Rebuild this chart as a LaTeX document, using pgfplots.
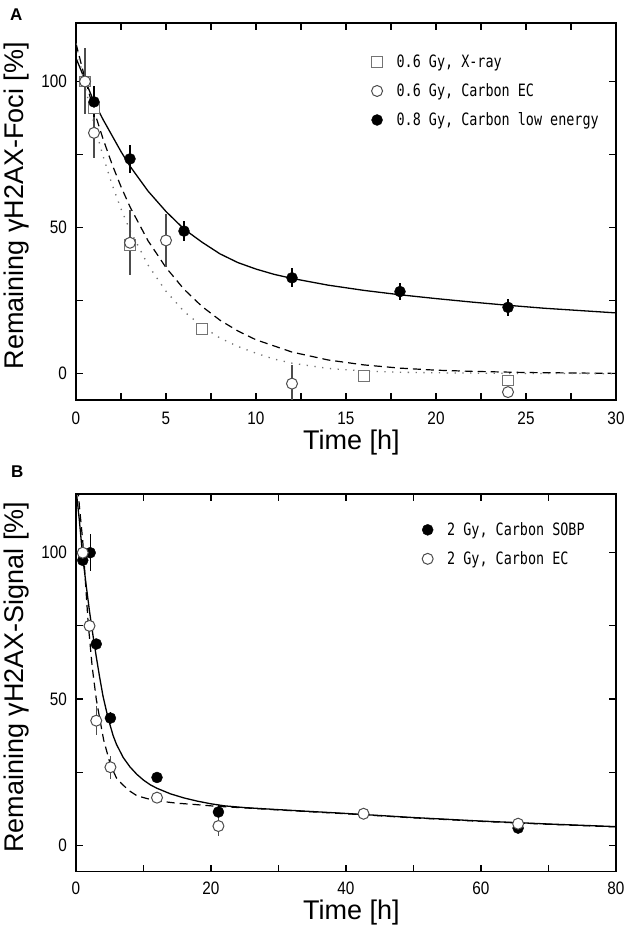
\documentclass[border=0pt]{standalone}
\usepackage{fontspec}
\setmainfont{Liberation Sans}
\newfontfamily\tickfont{Liberation Sans}[FakeStretch=0.85]
\newfontfamily\legfont{DejaVu Sans Mono}[FakeStretch=0.79]
\usepackage{pgfplots}
\pgfplotsset{compat=1.18}
\usepackage{pgfplotstable}

% ---------- Panel A data ----------
\pgfplotstableread{
t v e
0.5 100 0
1 91 0
3 44 0
7 15.2 0
16 -0.8 0
24 -2.3 0
}\Asq
\pgfplotstableread{
t v e
0.5 100 11.3
1 82.4 8.5
3 44.8 11.2
5 45.6 9.2
12 -3.4 6.3
24 -6.3 0
}\Aopen
\pgfplotstableread{
t v e
1 93 5.3
3 73.5 4.7
6 48.8 3.5
12 32.8 3.2
18 28.1 2.8
24 22.7 2.8
}\Afill

% ---------- Panel B data ----------
\pgfplotstableread{
t v e
1 97.4 0
2.1 100 6.3
3 68.8 0
5.1 43.5 2
12 23.2 0
21.1 11.4 2.5
65.5 5.9 0
}\Bfill
\pgfplotstableread{
t v e
1 100 0
2 75 0
3 42.6 5
5.1 26.7 4
12 16.3 0
21.1 6.6 3.5
42.6 10.8 0
65.5 7.4 0
}\Bopen

\definecolor{sqgray}{gray}{0.45}
\definecolor{opgray}{gray}{0.30}

\pgfplotsset{
  panel/.style={
    scale only axis, width=540pt,
    ymin=-9, ymax=120,
    ytick={0,50,100}, minor ytick={25,75},
    tick align=inside,
    major tick length=7pt, minor tick length=7pt,
    every tick/.style={black, line width=1.2pt},
    axis line style={line width=1.5pt},
    /pgf/number format/assume math mode=true,
    ticklabel style={font=\tickfont\fontsize{18}{18}\selectfont, inner sep=0pt},
    xticklabel style={anchor=base, yshift=-25pt},
    yticklabel style={anchor=east, xshift=-9pt},
    label style={font=\fontsize{27}{27}\selectfont, inner sep=0pt},
    ylabel style={at={(axis description cs:-0.098,0.515)}, anchor=base},
    legend cell align=left,
    legend image code/.code={\draw[##1] plot coordinates {(0pt,1.5pt)};},
    legend style={draw=none, fill=none, inner sep=0pt, anchor=north west,
      row sep=14pt, column sep=14pt,
      nodes={inner sep=0pt, text height=12pt, text depth=3pt,
             font=\legfont\fontsize{17}{17}\selectfont}},
  },
  sq/.style={only marks, mark=square*, mark size=5.3pt,
    mark options={fill=white, draw=sqgray, line width=1pt},
    error bars/.cd, y dir=both, y explicit, error mark=none,
    error bar style={sqgray, line width=1.2pt}},
  opc/.style={only marks, mark=*, mark size=5.5pt,
    mark options={fill=white, draw=opgray, line width=1pt},
    error bars/.cd, y dir=both, y explicit, error mark=none,
    error bar style={opgray, line width=1.2pt}},
  fic/.style={only marks, mark=*, mark size=5.5pt,
    mark options={fill=black, draw=black},
    error bars/.cd, y dir=both, y explicit, error mark=none,
    error bar style={black, line width=1.2pt}},
}

\begin{document}
\begin{tikzpicture}
\path[use as bounding box] (0pt,0pt) rectangle (629pt,928pt);

% ================= Panel A =================
\begin{axis}[panel, at={(76pt,528pt)}, anchor=south west, height=377pt,
  xmin=0, xmax=30,
  xtick={0,5,...,30}, minor xtick={2.5,7.5,...,27.5},
  xlabel={Time [h]},
  xlabel style={at={(axis description cs:0.51,0)}, anchor=base, yshift=-50pt},
  ylabel={Remaining γH2AX-Foci [\%]},
  legend style={at={(axis description cs:0.547,0.913)}},
]
% fitted curves
\addplot[forget plot, black, line width=1.3pt] coordinates {
(0,108) (0.5,100.5) (1,93) (1.5,87) (2,81.5) (2.5,76) (3,71) (4,62.5)
(5,55.5) (6,49.5) (7,45) (8,41) (9,38) (10,35.8) (11,34) (12,32.6)
(14,30.3) (16,28.5) (18,27) (20,25.7) (22,24.5) (24,23.4) (26,22.4)
(28,21.6) (30,20.8)};
\addplot[forget plot, black, line width=1.2pt, dash pattern=on 8pt off 5pt] coordinates {
(0,113) (0.5,100.9) (1,90) (1.5,80.4) (2,71.7) (2.5,64) (3,57.1) (4,45.5)
(5,36.3) (6,28.9) (7,23) (8,18.3) (9,14.6) (10,11.6) (12,7.4) (14,4.7)
(16,3) (18,1.9) (20,1.2) (22,0.8) (25,0.4) (30,0.1)};
\addplot[forget plot, sqgray, line width=1.3pt, dash pattern=on 1.3pt off 6.5pt] coordinates {
(0,113) (0.5,98.3) (1,85.6) (1.5,74.5) (2,64.8) (2.5,56.4) (3,49.1) (4,37.2)
(5,28.2) (6,21.3) (7,16.2) (8,12.2) (9,9.3) (10,7) (11,5) (12,3.6) (14,1.8)
(16,0.9) (18,0.5) (20,0.3) (24,0.1) (30,0)};
% data
\addplot[sq] table[x=t, y=v, y error=e] {\Asq};
\addlegendentry{0.6 Gy, X-ray}
\addplot[opc] table[x=t, y=v, y error=e] {\Aopen};
\addlegendentry{0.6 Gy, Carbon EC}
\addplot[fic] table[x=t, y=v, y error=e] {\Afill};
\addlegendentry{0.8 Gy, Carbon low energy}
\end{axis}

% ================= Panel B =================
\begin{axis}[panel, at={(76pt,56.3pt)}, anchor=south west, height=377.5pt,
  xmin=0, xmax=80,
  xtick={0,20,...,80}, minor xtick={10,30,50,70},
  xticklabel style={yshift=2pt},
  xlabel={Time [h]},
  xlabel style={at={(axis description cs:0.51,0)}, anchor=base, yshift=-48pt},
  ylabel={Remaining γH2AX-Signal [\%]},
  legend style={at={(axis description cs:0.6407,0.922)}},
]
\addplot[forget plot, black, line width=1.3pt] coordinates {
(0,122) (0.5,111) (1,98.5) (1.5,89) (2,80) (2.5,72) (3,64.5) (3.5,57.5)
(4,51) (4.5,46) (5,41.5) (5.5,37.5) (6,34.5) (7,30) (8,26.8) (9,24.3)
(10,22.3) (11,20.7) (12,19.5) (14,17.6) (16,16.2) (18,15.1) (20,14.2)
(22,13.5) (25,12.9) (30,12.2) (40,10.9) (50,9.5) (60,8.3) (70,7.3) (80,6.4)};
\addplot[forget plot, black, line width=1.2pt, dash pattern=on 8pt off 5pt] coordinates {
(0.3,122) (0.5,116) (1,104) (1.4,90) (1.8,76) (2.4,61) (3,50) (3.5,43.5)
(4.1,36) (5.1,27.5) (6,23) (6.8,21) (7.8,18.8) (9,17) (10.5,16) (12.4,15.1)
(15,14.4) (17.4,14) (20,13.5) (22,13.2) (25,12.8) (30,12.1) (40,10.8)
(50,9.4) (60,8.2) (70,7.2) (80,6.3)};
\addplot[fic] table[x=t, y=v, y error=e] {\Bfill};
\addlegendentry{2 Gy, Carbon SOBP}
\addplot[opc] table[x=t, y=v, y error=e] {\Bopen};
\addlegendentry{2 Gy, Carbon EC}
\end{axis}

% panel letters
\node[anchor=base west, inner sep=0pt, font=\bfseries\fontsize{17}{17}\selectfont] at (10pt,907.3pt) {A};
\node[anchor=base west, inner sep=0pt, font=\bfseries\fontsize{17}{17}\selectfont] at (11pt,450pt) {B};
\end{tikzpicture}
\end{document}
